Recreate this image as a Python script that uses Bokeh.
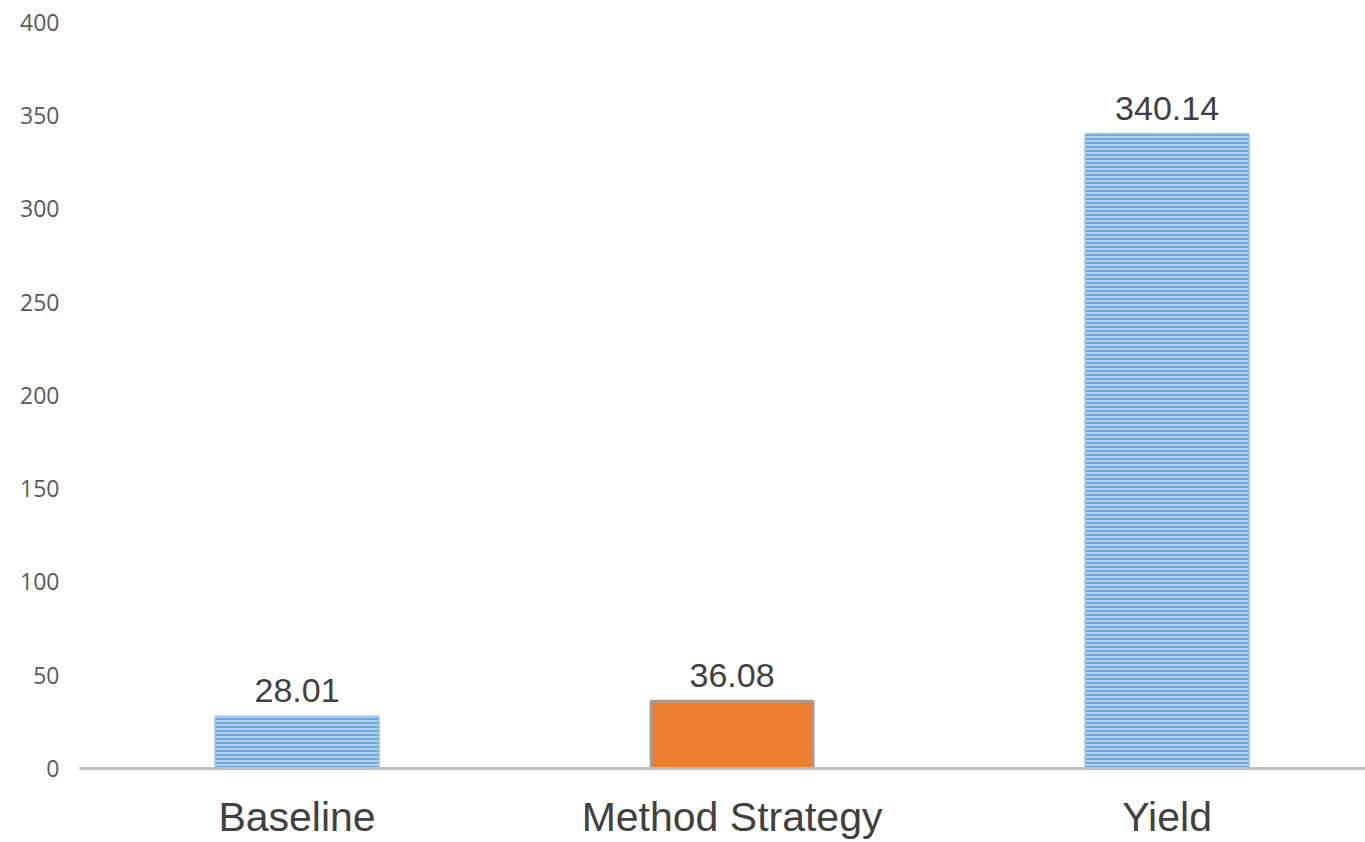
from bokeh.plotting import figure
from bokeh.models import ColumnDataSource, Range1d, FixedTicker, LabelSet
from bokeh.core.properties import value
from bokeh.embed import file_html
from bokeh.resources import INLINE

categories = ["Baseline", "Method Strategy", "Yield"]
values = [28.01, 36.08, 340.14]
labels = ["28.01", "36.08", "340.14"]
y_ticks = [0, 50, 100, 150, 200, 250, 300, 350, 400]

xs = [i + 0.5 for i in range(len(categories))]

p = figure(frame_width=1286, frame_height=768, output_backend="svg",
           toolbar_location=None, min_border_left=79, min_border_top=0,
           min_border_right=0, min_border_bottom=74,
           x_range=Range1d(0, 2.956), y_range=Range1d(0, 411.6))
p.background_fill_color = "white"
p.border_fill_color = "white"
p.outline_line_color = None
p.xgrid.visible = False
p.ygrid.visible = False

blue_src = ColumnDataSource(dict(x=[xs[0], xs[2]], top=[values[0], values[2]]))
orange_src = ColumnDataSource(dict(x=[xs[1]], top=[values[1]]))

p.vbar(x="x", top="top", width=0.377, source=blue_src,
       fill_color="#b4d0ee", line_color="#9dc3e6", line_width=1.5,
       hatch_pattern="horizontal_line", hatch_color="#5b9bd5",
       hatch_scale=4, hatch_weight=1.6)
p.vbar(x="x", top="top", width=0.372, source=orange_src,
       fill_color="#ed7d31", line_color="#a89a92", line_width=3)

lab_src = ColumnDataSource(dict(x=xs, y=values, t=labels))
p.add_layout(LabelSet(x="x", y="y", text="t", source=lab_src,
                      text_align="center", text_baseline="bottom",
                      y_offset=14, text_font_size=value("34px"),
                      text_font=value("Liberation Sans"), text_color="#404040"))

p.xaxis.ticker = FixedTicker(ticks=xs)
p.xaxis.major_label_overrides = {x: c for x, c in zip(xs, categories)}
p.xaxis.major_label_text_font_size = "41px"
p.xaxis.major_label_text_font = "Liberation Sans"
p.xaxis.major_label_text_color = "#404040"
p.xaxis.major_label_standoff = 25
p.xaxis.axis_line_color = "#bfbfbf"
p.xaxis.axis_line_width = 3
p.xaxis.major_tick_line_color = None
p.xaxis.minor_tick_line_color = None
p.xaxis.major_tick_out = 0

p.yaxis.ticker = FixedTicker(ticks=y_ticks)
p.yaxis.major_label_text_font_size = "23px"
p.yaxis.major_label_text_font = "Open Sans"
p.yaxis.major_label_text_color = "#595959"
p.yaxis.major_label_standoff = 20
p.yaxis.axis_line_color = None
p.yaxis.major_tick_line_color = None
p.yaxis.minor_tick_line_color = None
p.yaxis.major_tick_out = 0
p.yaxis.major_tick_in = 0

open("out.html", "w").write(file_html(p, INLINE))
